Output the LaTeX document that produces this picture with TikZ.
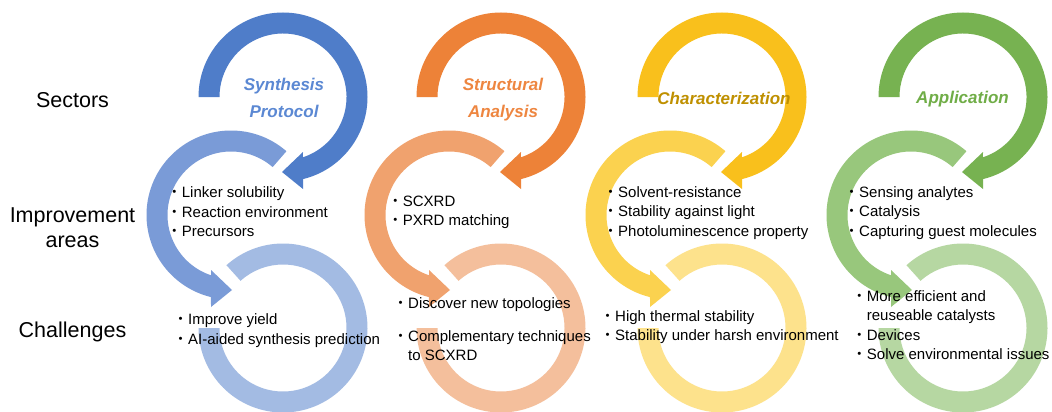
\documentclass[tikz,border=0pt]{standalone}
\usepackage{fontspec}
\setmainfont{Liberation Sans}
\newfontfamily\cjk{Noto Sans CJK JP}
\definecolor{bT}{HTML}{4F7DC9}
\definecolor{bM}{HTML}{7A9BD7}
\definecolor{bB}{HTML}{A3BBE3}
\definecolor{oT}{HTML}{ED8238}
\definecolor{oM}{HTML}{F0A26E}
\definecolor{oB}{HTML}{F4BF9C}
\definecolor{yT}{HTML}{F9C01C}
\definecolor{yM}{HTML}{FBD24F}
\definecolor{yB}{HTML}{FDE28C}
\definecolor{gT}{HTML}{77B251}
\definecolor{gM}{HTML}{98C77C}
\definecolor{gB}{HTML}{B6D7A2}
\definecolor{bTxt}{HTML}{5B88D3}
\definecolor{oTxt}{HTML}{EE8640}
\definecolor{yTxt}{HTML}{BF9000}
\definecolor{gTxt}{HTML}{70AD47}
% top (sector) arrow: clockwise, head pointing left at the bottom
\newcommand{\SectorArrow}[2]{%
  \fill[#2,shift={#1}] (180:84.5) arc[start angle=180, end angle=-76.3, radius=84.5]
    -- (20,-92) -- (-1,-75) -- (20,-55)
    -- (-71.7:63.5) arc[start angle=-71.7, end angle=180, radius=63.5] -- cycle;}
% middle arrow: counter-clockwise, head pointing right at the bottom
\newcommand{\AreaArrow}[2]{%
  \fill[#2,shift={#1}] (49:84.5) arc[start angle=49, end angle=256.3, radius=84.5]
    -- (-20,-92) -- (1,-75) -- (-20,-55)
    -- (251.7:63.5) arc[start angle=251.7, end angle=49, radius=63.5] -- cycle;}
% bottom ring: open arc with no head
\newcommand{\ChallengeRing}[2]{%
  \fill[#2,shift={#1}] (132:84.5) arc[start angle=132, end angle=-180, radius=84.5]
    -- (-180:63.5) arc[start angle=-180, end angle=132, radius=63.5] -- cycle;}
\newcommand{\bul}{{\cjk ・}}
\newcommand{\bulsp}{\phantom{\cjk ・}}
% note: for multi-line nodes the base anchor is the baseline of the LAST line
\tikzset{
  rowlabel/.style={font=\fontsize{21.5}{25.5}\selectfont, align=center, anchor=base, inner sep=0pt},
  sectitle/.style={font=\fontsize{17}{26}\selectfont\bfseries\itshape, align=center, anchor=base, inner sep=0pt},
  bullets/.style={font=\fontsize{15}{19.5}\selectfont, align=left, anchor=base west, inner sep=0pt},
}
\begin{document}
\begin{tikzpicture}[x=1pt,y=1pt]
\fill[white] (0,0) rectangle (1052,-412);
\path[use as bounding box] (0,0) rectangle (1052,-412);

% column 1 (blue)
\ChallengeRing{(283,-328)}{bB}
\AreaArrow{(231,-215)}{bM}
\SectorArrow{(283,-97)}{bT}
% column 2 (orange)
\ChallengeRing{(501,-328)}{oB}
\AreaArrow{(449,-215)}{oM}
\SectorArrow{(501,-97)}{oT}
% column 3 (yellow)
\ChallengeRing{(722,-328)}{yB}
\AreaArrow{(670,-215)}{yM}
\SectorArrow{(722,-97)}{yT}
% column 4 (green)
\ChallengeRing{(963,-328)}{gB}
\AreaArrow{(911,-215)}{gM}
\SectorArrow{(963,-97)}{gT}

% row labels
\node[rowlabel] (sectors) at (72.5,-107) {Sectors};
\node[rowlabel] (improve) at (72.5,-247.5) {Improvement\\areas};
\node[rowlabel] (challenges) at (72.5,-337.5) {Challenges};

% sector titles
\node[sectitle, text=bTxt] (t1) at (284,-117) {Synthesis\\Protocol};
\node[sectitle, text=oTxt] (t2) at (503,-117) {Structural\\Analysis};
\node[sectitle, text=yTxt] (t3) at (724,-104) {Characterization};
\node[sectitle, text=gTxt] (t4) at (962.5,-103) {Application};

% improvement areas
\node[bullets] (i1) at (166.7,-236.5) {\bul Linker solubility\\\bul Reaction environment\\\bul Precursors};
\node[bullets] (i2) at (387.7,-225.5) {\bul SCXRD\\\bul PXRD matching};
\node[bullets] (i3) at (603,-236) {\bul Solvent-resistance\\\bul Stability against light\\\bul Photoluminescence property};
\node[bullets] (i4) at (844,-236) {\bul Sensing analytes\\\bul Catalysis\\\bul Capturing guest molecules};

% challenges
\node[bullets] (c1) at (173,-344) {\bul Improve yield\\\bul AI-aided synthesis prediction};
\node[bullets] (c2) at (393,-360.5) {\bul Discover new topologies\\[13pt]\bul Complementary techniques\\\bulsp to SCXRD};
\node[bullets] (c3) at (600,-340.5) {\bul High thermal stability\\\bul Stability under harsh environment};
\node[bullets] (c4) at (851.7,-359.5) {\bul More efficient and\\\bulsp reuseable catalysts\\\bul Devices\\\bul Solve environmental issues};
\end{tikzpicture}
\end{document}
